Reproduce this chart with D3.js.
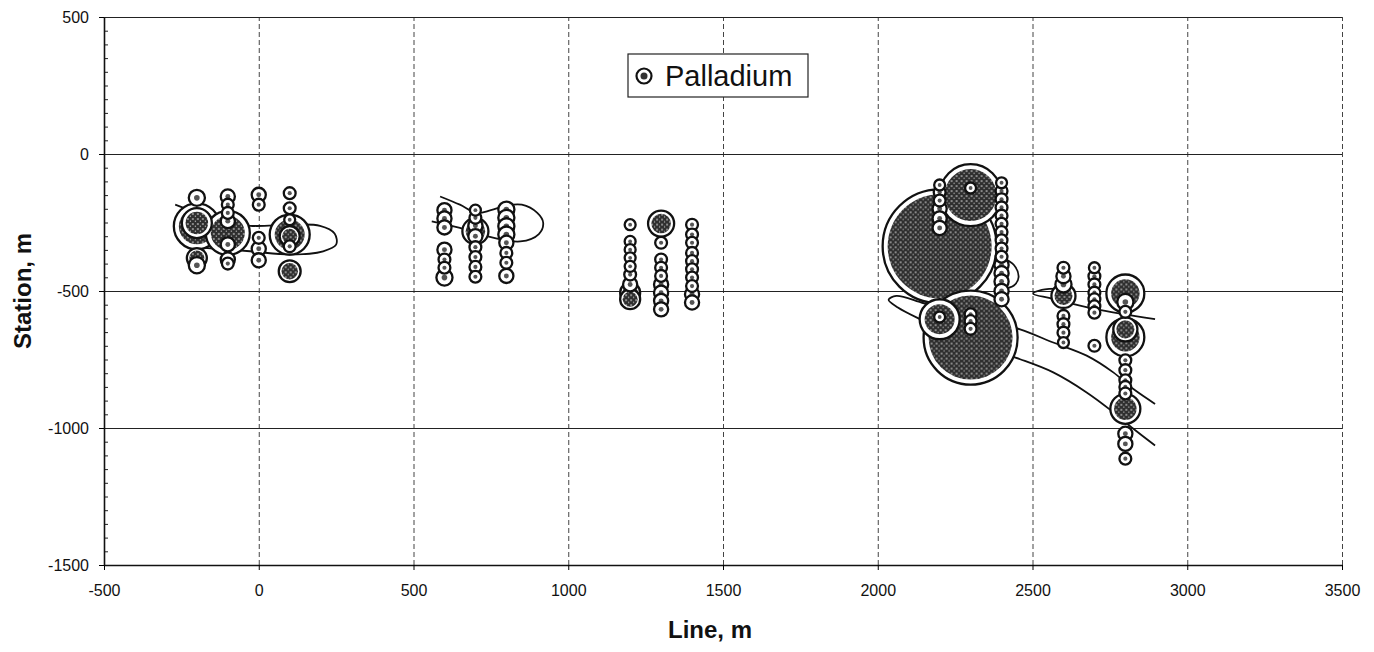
<!DOCTYPE html>
<html>
<head>
<meta charset="utf-8">
<script src="https://cdn.jsdelivr.net/npm/d3@7"></script>
<style>
  body { margin: 0; background: #fff; }
  svg { font-family: "Liberation Sans", Arial, sans-serif; }
</style>
</head>
<body>
<svg id="chart"></svg>
<script>
var width = 1374;
var height = 652;
var margin = {top: 17, right: 32, bottom: 87, left: 104};

// sampling lines (x), stations (y) and palladium value, one entry per sample
var sampleLine = [
  -200, -200, -200, -200, -200,
  -100, -100, -100, -100, -100, -100, -100, -100,
  0, 0, 0, 0, 0,
  100, 100, 100, 100, 100, 100, 100,
  600, 600, 600, 600, 600, 600, 600,
  700, 700, 700, 700, 700, 700, 700, 700, 700,
  800, 800, 800, 800, 800, 800, 800, 800,
  1200, 1200, 1200, 1200, 1200, 1200, 1200, 1200, 1200,
  1300, 1300, 1300, 1300, 1300, 1300, 1300, 1300, 1300,
  1400, 1400, 1400, 1400, 1400, 1400, 1400, 1400, 1400, 1400,
  2200, 2200, 2200, 2200, 2200, 2200, 2200, 2200, 2200,
  2300, 2300, 2300, 2300, 2300, 2300,
  2400, 2400, 2400, 2400, 2400, 2400, 2400, 2400, 2400, 2400, 2400, 2400, 2400, 2400, 2400,
  2600, 2600, 2600, 2600, 2600, 2600, 2600, 2600,
  2700, 2700, 2700, 2700, 2700, 2700, 2700, 2700,
  2800, 2800, 2800, 2800, 2800, 2800, 2800, 2800, 2800, 2800, 2800, 2800, 2800, 2800
];
var sampleStation = [
  -160, -264, -252, -380, -406,
  -155, -185, -215, -245, -288, -330, -385, -400,
  -149, -185, -306, -346, -388,
  -143, -198, -240, -294, -300, -337, -428,
  -205, -235, -268, -349, -385, -415, -451,
  -205, -233, -262, -282, -300, -340, -376, -412, -448,
  -203, -233, -264, -294, -324, -361, -397, -445,
  -258, -319, -349, -379, -410, -440, -476, -506, -530,
  -254, -324, -385, -415, -445, -476, -506, -536, -567,
  -258, -294, -324, -361, -391, -421, -451, -482, -512, -542,
  -337, -113, -140, -170, -200, -235, -270, -603, -595,
  -150, -124, -670, -585, -610, -638,
  -105, -135, -165, -195, -225, -255, -285, -315, -345, -375, -405, -435, -465, -500, -530,
  -415, -446, -476, -518, -591, -621, -652, -688,
  -415, -446, -476, -506, -530, -556, -579, -700,
  -509, -540, -576, -640, -669, -753, -789, -826, -850, -874, -930, -1021, -1058, -1112
];
var samplePd = [
  26, 212, 90, 40, 26,
  20, 14, 14, 20, 194, 20, 20, 14,
  20, 14, 14, 20, 20,
  14, 14, 12, 160, 40, 14, 48,
  20, 20, 20, 20, 14, 14, 26,
  12, 14, 20, 68, 20, 14, 14, 14, 14,
  26, 26, 26, 26, 20, 14, 14, 20,
  12, 12, 12, 12, 12, 14, 20, 40, 40,
  68, 14, 14, 14, 14, 20, 20, 20, 20,
  14, 14, 14, 14, 14, 14, 14, 14, 20, 20,
  1300, 12, 14, 14, 20, 20, 20, 160, 12,
  384, 12, 884, 14, 14, 14,
  12, 14, 14, 14, 14, 14, 14, 14, 14, 14, 20, 20, 20, 20, 20,
  14, 20, 26, 58, 14, 14, 14, 12,
  12, 14, 14, 14, 14, 14, 14, 14,
  144, 26, 14, 58, 144, 14, 14, 14, 14, 14, 90, 20, 20, 14
];

// hand-drawn outlines of the anomalies, [line, station]
var outline1 = [[-270, -185], [-200, -215], [-137, -240], [-28, -262], [101, -258], [198, -262],
                [245, -290], [250, -331], [208, -355], [101, -367], [-28, -355], [-190, -342]];
var outline2 = [[586, -155], [650, -185], [704, -215], [750, -205], [800, -188], [850, -185],
                [900, -215], [919, -251], [905, -292], [845, -319], [737, -300], [650, -270], [559, -246]];
var outline3 = [[2405, -380], [2440, -405], [2455, -450], [2440, -480], [2405, -492]];
var outline4 = [[2896, -912], [2826, -858], [2761, -797], [2675, -736], [2567, -688], [2460, -640],
                [2300, -590], [2150, -545], [2060, -518], [2035, -532], [2065, -560], [2150, -610],
                [2300, -690], [2460, -749], [2567, -797], [2675, -870], [2761, -942], [2826, -1003], [2896, -1064]];
var outline5 = [[2620, -492], [2530, -496], [2502, -510], [2560, -527], [2700, -565], [2896, -603]];
var outlines = [outline1, outline2, outline3, outline4, outline5];

var xTicks = [-500, 0, 500, 1000, 1500, 2000, 2500, 3000, 3500];
var yTicks = [-1500, -1000, -500, 0, 500];

var samples = sampleLine.map((d, i) => ({line: d, station: sampleStation[i], pd: samplePd[i]}));

var xScale = d3.scaleLinear()
                .domain([-500, 3500])
                .range([margin.left, width - margin.right]);
var yScale = d3.scaleLinear()
                .domain([-1500, 500])
                .range([height - margin.bottom, margin.top]);
var rScale = d3.scaleSqrt()
                .domain([0, 1300])
                .range([0, 57]);

var svg = d3.select("#chart")
    .attr("width", width)
    .attr("height", height);

// stipple fill, like the scanned pattern of the bubbles
var pat = svg.append("defs").append("pattern")
    .attr("id", "stipple")
    .attr("patternUnits", "userSpaceOnUse")
    .attr("width", 5).attr("height", 5);
pat.append("rect").attr("width", 5).attr("height", 5).attr("fill", "#2e2e2e");
pat.append("circle").attr("cx", 1).attr("cy", 1).attr("r", 0.8).attr("fill", "#fff");
pat.append("circle").attr("cx", 3.5).attr("cy", 3.2).attr("r", 0.6).attr("fill", "#ddd");

var plotW = width - margin.left - margin.right;
var plotH = height - margin.top - margin.bottom;

// vertical grid, dashed
svg.append("g")
    .attr("transform", "translate(0," + (height - margin.bottom) + ")")
    .call(d3.axisBottom(xScale).tickValues(xTicks).tickSize(-plotH).tickFormat(""))
    .call(g => g.select(".domain").remove())
    .selectAll("line")
      .attr("stroke", "#444")
      .attr("stroke-dasharray", "5,3");

// horizontal grid
svg.append("g")
    .attr("transform", "translate(" + margin.left + ",0)")
    .call(d3.axisLeft(yScale).tickValues(yTicks).tickSize(-plotW).tickFormat(""))
    .call(g => g.select(".domain").remove())
    .selectAll("line")
      .attr("stroke", "#222")
      .attr("stroke-width", 1.2);

// minor ticks on the station axis
svg.append("g")
    .attr("transform", "translate(" + margin.left + ",0)")
    .call(d3.axisRight(yScale).tickValues(d3.range(-1450, 500, 50)).tickSize(4).tickFormat(""))
    .call(g => g.select(".domain").remove())
    .selectAll("line").attr("stroke", "#222");

var xAxis = d3.axisBottom(xScale)
                .tickValues(xTicks)
                .tickSize(5)
                .tickSizeOuter(0)
                .tickPadding(15)
                .tickFormat(d => String(d));
var yAxis = d3.axisLeft(yScale)
                .tickValues(yTicks)
                .tickSize(5)
                .tickSizeOuter(0)
                .tickPadding(10)
                .tickFormat(d => String(d));

svg.append("g")
    .attr("transform", "translate(0," + (height - margin.bottom) + ")")
    .call(xAxis)
    .call(g => g.selectAll("text").attr("font-size", 16).attr("fill", "#111").attr("font-family", null))
    .call(g => g.select(".domain").attr("stroke", "#111").attr("stroke-width", 1.6));

svg.append("g")
    .attr("transform", "translate(" + margin.left + ",0)")
    .call(yAxis)
    .call(g => g.selectAll("text").attr("font-size", 16).attr("fill", "#111").attr("font-family", null))
    .call(g => g.select(".domain").attr("stroke", "#111").attr("stroke-width", 1.6));

// anomaly outlines
var line = d3.line()
    .x(d => xScale(d[0]))
    .y(d => yScale(d[1]))
    .curve(d3.curveCatmullRom);

svg.append("g")
  .selectAll("path")
  .data(outlines)
  .enter()
  .append("path")
    .attr("d", line)
    .attr("fill", "none")
    .attr("stroke", "#111")
    .attr("stroke-width", 1.8);

// bubbles, big ones first so the small ones stay visible on top
var bubble = svg.append("g")
  .selectAll("g")
  .data(samples.slice().sort((a, b) => b.pd - a.pd))
  .enter()
  .append("g")
    .attr("transform", d => "translate(" + xScale(d.line) + "," + yScale(d.station) + ")");

bubble.append("circle")
    .attr("r", d => rScale(d.pd))
    .attr("fill", "#fff")
    .attr("stroke", "#111")
    .attr("stroke-width", 2.3);

bubble.append("circle")
    .attr("r", d => rScale(d.pd) > 9 ? rScale(d.pd) - Math.min(5, rScale(d.pd) * 0.25) : rScale(d.pd) * 0.35)
    .attr("fill", d => rScale(d.pd) > 9 ? "url(#stipple)" : "#555");

// legend
var legend = svg.append("g").attr("transform", "translate(628,54)");
legend.append("rect")
    .attr("width", 180).attr("height", 43)
    .attr("fill", "#fff").attr("stroke", "#222").attr("stroke-width", 1.2);
legend.append("circle")
    .attr("cx", 16).attr("cy", 22).attr("r", 7.5)
    .attr("fill", "#fff").attr("stroke", "#111").attr("stroke-width", 2.2);
legend.append("circle")
    .attr("cx", 16).attr("cy", 22).attr("r", 3.5)
    .attr("fill", "#333");
legend.append("text")
    .attr("x", 37).attr("y", 32)
    .attr("font-size", 29)
    .attr("fill", "#111")
    .text("Palladium");

// axis titles
svg.append("text")
    .attr("x", 710)
    .attr("y", 638)
    .attr("text-anchor", "middle")
    .attr("font-size", 24)
    .attr("font-weight", "bold")
    .attr("fill", "#111")
    .text("Line, m");

svg.append("text")
    .attr("transform", "translate(31," + (margin.top + plotH / 2) + ") rotate(-90)")
    .attr("text-anchor", "middle")
    .attr("font-size", 24)
    .attr("font-weight", "bold")
    .attr("fill", "#111")
    .text("Station, m");
</script>
</body>
</html>
